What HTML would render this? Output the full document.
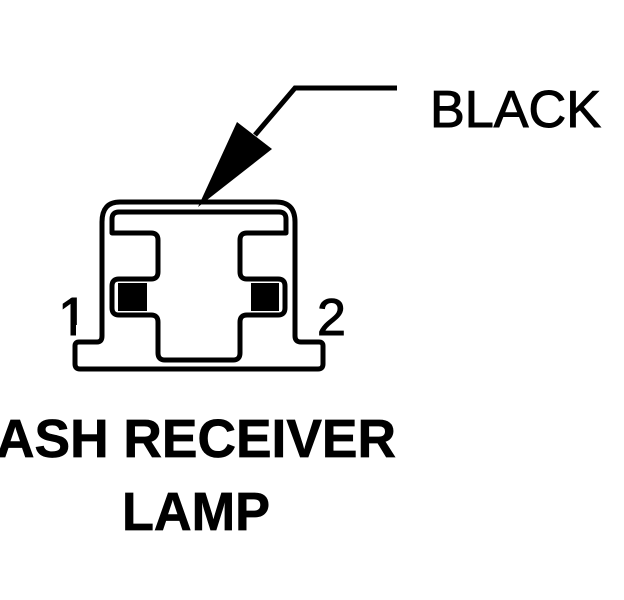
<!DOCTYPE html>
<html>
<head>
<meta charset="utf-8">
<style>
html,body{margin:0;padding:0;background:#fff;width:624px;height:600px;overflow:hidden}
svg{display:block}
text{font-family:"Liberation Sans",Arial,sans-serif;fill:#000;stroke:#000;stroke-width:.7}
</style>
</head>
<body>
<svg width="624" height="600" viewBox="0 0 624 600" xmlns="http://www.w3.org/2000/svg">
<rect width="624" height="600" fill="#fff"/>
<text x="58" y="335" font-size="54" style="stroke-width:1">1</text>
<rect x="52" y="325" width="18.5" height="13" fill="#fff"/>
<rect x="76" y="325" width="18" height="13" fill="#fff"/>
<rect x="70.5" y="298" width="5.5" height="37" fill="#000"/>
<g fill="none" stroke="#000" stroke-width="5" stroke-linejoin="round" stroke-linecap="round">
<path d="M102 336V222Q102 202 120 202H276Q295 202 295 222V336Q295 342 301 342H319Q323 342 323 346V364Q323 369 318 369H80Q75 369 75 364V346Q75 342 79 342H97Q102 342 102 336Z"/>
<path d="M112 233V219Q112 212 119 212H279Q286 212 286 219V233H247Q240 233 240 240V272Q240 279 247 279H278Q285 279 285 286V308Q285 315 278 315H247Q240 315 240 322V353Q240 360 233 360H165Q158 360 158 353V322Q158 315 151 315H119Q112 315 112 308V286Q112 279 119 279H151Q158 279 158 272V240Q158 233 151 233Z"/>
<path d="M255 135L295 88H397" stroke-linecap="butt" stroke-linejoin="miter"/>
</g>
<polygon points="198,207 237,122 272,149" fill="#000"/>
<rect x="118" y="283" width="29" height="28" fill="#000"/>
<rect x="251" y="283" width="28" height="28" fill="#000"/>
<text x="430" y="127" font-size="52" textLength="171" lengthAdjust="spacingAndGlyphs" style="stroke-width:1">BLACK</text>
<text x="-4" y="457" font-size="54" font-weight="700" textLength="400" lengthAdjust="spacingAndGlyphs">ASH RECEIVER</text>
<text x="122" y="530" font-size="54" font-weight="700" textLength="148" lengthAdjust="spacingAndGlyphs">LAMP</text>
<text x="317" y="335" font-size="52" style="stroke-width:1">2</text>
</svg>
</body>
</html>
